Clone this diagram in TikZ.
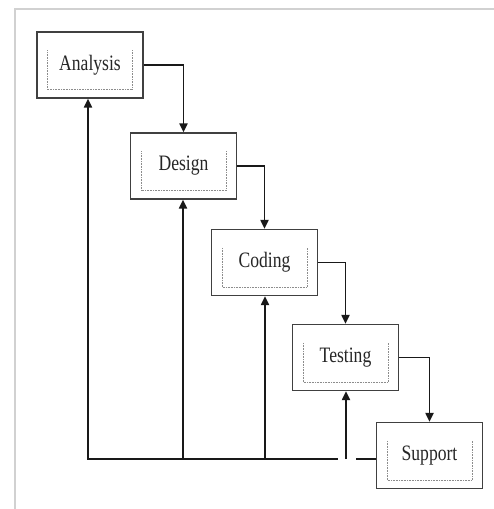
\documentclass[tikz,border=0pt]{standalone}
\usepackage{fontspec}
\setmainfont[FakeStretch=0.8]{Liberation Serif}
\usetikzlibrary{arrows.meta}
\begin{document}
\begin{tikzpicture}[x=1pt,y=-1pt,
  stage/.style={draw=black!75,line width=1.2pt,minimum width=106pt,minimum height=66pt,inner sep=0pt,font=\fontsize{22}{26}\selectfont,text=black!85},
  bracket/.style={draw=black!45,line width=0.6pt,densely dotted},
  flow/.style={draw=black!90,line width=1.9pt,-{Triangle[length=9pt,width=8pt]}},
  plain/.style={draw=black!90,line width=1.9pt},
  frame/.style={draw=black!18,line width=2pt}]
\useasboundingbox (0,0) rectangle (494,509);
\fill[white] (0,0) rectangle (494,509);
\draw[frame] (15,509) -- (15,9) -- (494,9);
\node[stage] (a) at (90,65) {Analysis};
\node[stage] (d) at (183.5,166) {Design};
\node[stage] (c) at (264.5,262.5) {Coding};
\node[stage] (t) at (345.5,357.5) {Testing};
\node[stage] (s) at (429.5,455.5) {Support};
\foreach \n in {a,d,c,t,s}{
  \draw[bracket] ([shift={(11pt,-19pt)}]\n.north west) -- ([shift={(11pt,9pt)}]\n.south west)
    -- ([shift={(-11pt,9pt)}]\n.south east) -- ([shift={(-11pt,-19pt)}]\n.north east);
}
\draw[flow] (a.east) -| (d.north);
\draw[flow] (d.east) -| (c.north);
\draw[flow] (c.east) -| (t.north);
\draw[flow] (t.east) -| (s.north);
\coordinate (f1) at (88,459);
\coordinate (f2) at (183,459);
\coordinate (f3) at (265,459);
\coordinate (f4) at (346,459);
\coordinate (g1) at (337,459);
\coordinate (g2) at (356,459);
\draw[plain,line cap=rect] (f1) -- (g1);
\draw[plain] (g2) -- (g2 -| s.west);
\draw[flow] (f1) -- (f1 |- a.south);
\draw[flow] (f2) -- (f2 |- d.south);
\draw[flow] (f3) -- (f3 |- c.south);
\draw[flow] (f4) -- (f4 |- t.south);
\end{tikzpicture}
\end{document}
